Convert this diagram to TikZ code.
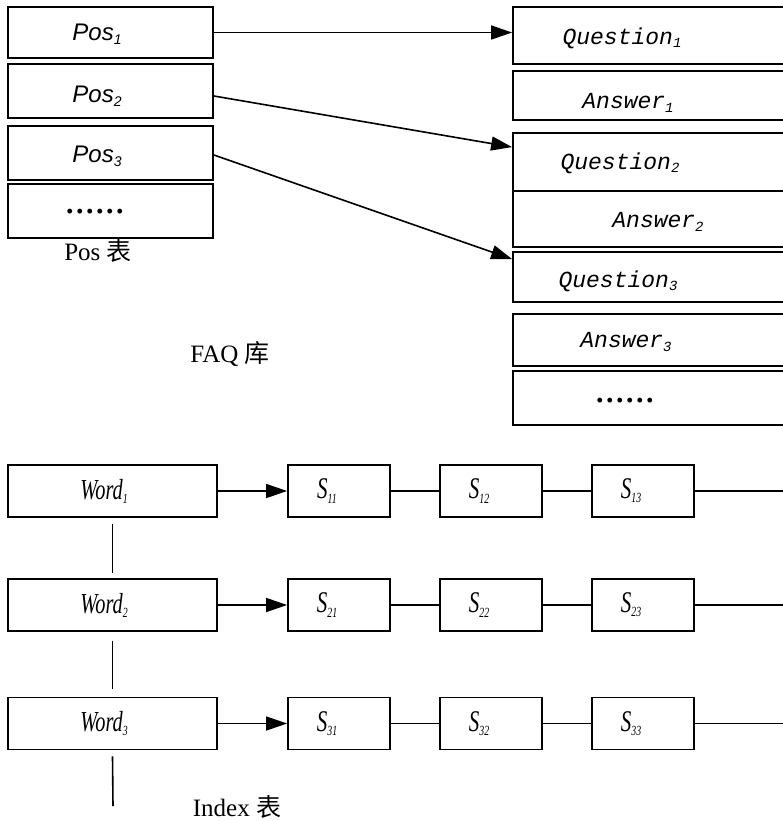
\documentclass[tikz,border=0pt]{standalone}
\usepackage{fontspec}
\setmainfont{Liberation Serif}
\newfontfamily\cjkfont{Noto Sans CJK SC}
\newfontfamily\posfont{Liberation Sans}
\newfontfamily\qafont{Liberation Mono}
\newfontfamily\condfont[FakeStretch=0.7]{Liberation Serif}
\newcommand\idx[1]{\raisebox{-0.3ex}{\fontsize{14}{14}\selectfont #1}}
\newcommand\dotrow{\textperiodcentered\textperiodcentered\textperiodcentered\textperiodcentered\textperiodcentered\textperiodcentered}
\usetikzlibrary{arrows.meta,positioning}

\begin{document}
\begin{tikzpicture}[x=1pt,y=-1pt,>={Triangle[length=21pt,width=14pt]},
      cell/.style={rectangle,draw,line width=1.8pt,inner sep=0pt},
      posbox/.style={cell,minimum width=205pt,font=\posfont\itshape\fontsize{24}{24}\selectfont},
      faq/.style={cell,minimum width=290pt},
      qa/.style={inner sep=0pt,font=\qafont\itshape\fontsize{23}{23}\selectfont},
      dots/.style={inner sep=0pt,font=\bfseries\fontsize{30}{30}\selectfont},
      word/.style={cell,minimum width=209pt,minimum height=52pt,font=\condfont\itshape\fontsize{29}{29}\selectfont},
      sbox/.style={cell,minimum width=102pt,minimum height=52pt,font=\condfont\itshape\fontsize{30}{30}\selectfont},
      tablabel/.style={inner sep=0pt,font=\fontsize{25}{25}\selectfont},
      link/.style={line width=1.6pt}]
    \useasboundingbox (0,0) rectangle (783,821);
    \clip (0,0) rectangle (783,821);
    % Pos table
    \node[posbox,minimum height=51pt] (p1) at (110.5,32.5) {};
    \node[posbox,minimum height=54pt] (p2) at (110.5,91) {};
    \node[posbox,minimum height=54pt] (p3) at (110.5,153) {};
    \node[posbox,minimum height=54pt] (p4) at (110.5,211) {};
    \node[posbox,draw=none] (p1t) at (97,34) {Pos\idx{1}};
    \node[posbox,draw=none] (p2t) at (97,96) {Pos\idx{2}};
    \node[posbox,draw=none] (p3t) at (97,156) {Pos\idx{3}};
    \node[dots] (p4t) at (95,215) {\dotrow};
    \node[tablabel] (ptab) at (98,251) {Pos {\cjkfont 表}};
    % FAQ table
    \node[faq,minimum height=57pt] (q1) at (658,35.5) {};
    \node[faq,minimum height=49pt] (a1) at (658,95.5) {};
    \node[faq,minimum height=58pt] (q2) at (658,162) {};
    \node[faq,minimum height=56pt] (a2) at (658,219) {};
    \node[faq,minimum height=50pt] (q3) at (658,277) {};
    \node[faq,minimum height=52pt] (a3) at (658,340) {};
    \node[faq,minimum height=54pt] (q4) at (658,398) {};
    \node[qa] (q1t) at (622,38) {Question\idx{1}};
    \node[qa] (a1t) at (628,103) {Answer\idx{1}};
    \node[qa] (q2t) at (620,163) {Question\idx{2}};
    \node[qa] (a2t) at (658,222) {Answer\idx{2}};
    \node[qa] (q3t) at (618,281) {Question\idx{3}};
    \node[qa] (a3t) at (626,342) {Answer\idx{3}};
    \node[dots] (q4t) at (625,404) {\dotrow};
    \node[tablabel] (ftab) at (230,354) {FAQ {\cjkfont 库}};
    \draw[link,->] (p1.east) -- (p1.east -| q1.west);
    \draw[link,->] ([yshift=-5pt]p2.east) -- ([yshift=-15pt]q2.north west);
    \draw[link,->] ([yshift=-2pt]p3.east) -- ([yshift=-8pt]q3.north west);
    % Index table
    \node[word] (w1) at (112.5,491) {};
    \node[word] (w2) at (112.5,605) {};
    \node[word] (w3) at (112.5,723.5) {};
    \foreach \r/\y in {1/491,2/605,3/723.5} {
      \node[word,draw=none] (w\r t) at (104,\y) {Word\idx{\r}};
      \node[sbox] (s\r1) at (339,\y) {};
      \node[sbox] (s\r2) at (491,\y) {};
      \node[sbox] (s\r3) at (643,\y) {};
      \node[sbox,draw=none] (s\r1t) at (327,\y) {S\idx{\r1}};
      \node[sbox,draw=none] (s\r2t) at (479,\y) {S\idx{\r2}};
      \node[sbox,draw=none] (s\r3t) at (631,\y) {S\idx{\r3}};
      \coordinate (e\r) at (783,\y);
      \draw[link,->] (w\r) -- (s\r1);
      \draw[link] (s\r1) -- (s\r2);
      \draw[link] (s\r2) -- (s\r3);
      \draw[link] (s\r3) -- (e\r);
    }
    \coordinate (w4) at (113,806);
    \draw[link] ([yshift=-6pt]w1.south) -- ([yshift=5pt]w2.north);
    \draw[link] ([yshift=-9pt]w2.south) -- ([yshift=8pt]w3.north);
    \draw[link] ([yshift=-6pt]w3.south) -- (w4);
    \node[tablabel] (itab) at (237,807) {Index {\cjkfont 表}};
  \end{tikzpicture}
\end{document}
